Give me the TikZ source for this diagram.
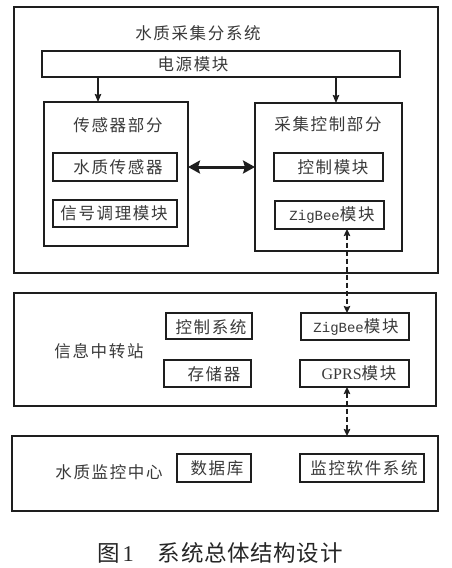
\documentclass[tikz,border=0pt]{standalone}
\usepackage{fontspec}
\setmainfont{Noto Sans CJK SC}[LetterSpace=10]
\newfontfamily\capfont{Noto Sans CJK SC}[LetterSpace=3]
\newfontfamily\zbfont{Liberation Mono}
\newfontfamily\tmsfont{Liberation Serif}
\usetikzlibrary{arrows.meta}
\definecolor{txtc}{HTML}{3A3A3A}
\definecolor{linec}{HTML}{1E1E1E}
\newcommand\ZB{{\fontsize{14}{16}\zbfont ZigBee}}
\newcommand\tzbox[5]{\node[boxst, minimum width={(#4-#2)*1pt}, minimum height={(#5-#3)*1pt}] (#1) at ({(#2+#4)/2},{(#3+#5)/2}) {};}
\tikzset{
  boxst/.style={draw=linec, line width=1.3pt, inner sep=0pt, outer sep=0pt, fill=none},
  lbl/.style={text=txtc, inner sep=0pt, font=\fontsize{16.5}{19}\selectfont},
  arr/.style={draw=linec, line width=1.3pt, -{Stealth[length=8pt,width=6.5pt,inset=1pt]}},
  bigarr/.style={draw=linec, line width=3pt, {Stealth[length=12pt,width=13pt,inset=2pt]}-{Stealth[length=12pt,width=13pt,inset=2pt]}},
  dasharr/.style={draw=linec, line width=1.5pt, dash pattern=on 5pt off 3pt, {Stealth[length=7pt,width=6.5pt,inset=1pt]}-{Stealth[length=7pt,width=6.5pt,inset=1pt]}}
}
\begin{document}
\begin{tikzpicture}[x=1pt,y=-1pt]
\useasboundingbox[fill=white] (0,0) rectangle (451,568);
% containers
\tzbox{sub1}{14}{7}{438}{273}
\tzbox{power}{42}{51}{400}{77}
\tzbox{sensor}{44}{102}{188}{246}
\tzbox{wqs}{53}{153}{177}{181}
\tzbox{sig}{53}{200}{177}{227}
\tzbox{acq}{255}{103}{402}{251}
\tzbox{ctrl}{274}{153}{383}{181}
\tzbox{zba}{275}{201}{384}{229}
\tzbox{sub2}{14}{293}{436}{406}
\tzbox{ctrlsys}{166}{313}{252}{339}
\tzbox{zbb}{301}{313}{409}{340}
\tzbox{mem}{164}{360}{251}{387}
\tzbox{gprs}{300}{360}{409}{387}
\tzbox{sub3}{12}{436}{438}{511}
\tzbox{db}{177}{454}{251}{482}
\tzbox{mon}{300}{454}{424}{482}
% texts
\node[lbl] (t1) at (198,33) {水质采集分系统};
\node[lbl] (t2) at (193,64) {电源模块};
\node[lbl] (t3) at (118,125) {传感器部分};
\node[lbl] (t4) at (118,167) {水质传感器};
\node[lbl] (t5) at (114,213) {信号调理模块};
\node[lbl] (t6) at (328,124) {采集控制部分};
\node[lbl] (t7) at (333,167) {控制模块};
\node[lbl] (t8) at (332,215) {\ZB 模块};
\node[lbl] (t9) at (99,351) {信息中转站};
\node[lbl] (t10) at (211,327) {控制系统};
\node[lbl] (t11) at (214,374) {存储器};
\node[lbl] (t12) at (356,327) {\ZB 模块};
\node[lbl] (t13) at (359,373) {{\fontsize{16}{18}\tmsfont GPRS}模块};
\node[lbl] (t14) at (109,472) {水质监控中心};
\node[lbl] (t15) at (217,468) {数据库};
\node[lbl] (t16) at (364,468) {监控软件系统};
\node[text=black!85, inner sep=0pt, anchor=west, font=\fontsize{22.5}{26}\capfont] (cap) at (97,553) {图\hspace{3pt}{\tmsfont 1}\hspace{24pt}系统总体结构设计};
% connectors
\coordinate (ca) at (98,0);
\coordinate (cb) at (336,0);
\coordinate (cm) at (0,167);
\coordinate (cd) at (347,0);
\draw[arr] (power.south -| ca) -- (sensor.north -| ca);
\draw[arr] (power.south -| cb) -- (acq.north -| cb);
\draw[bigarr] (sensor.east |- cm) -- (acq.west |- cm);
\draw[dasharr] (zba.south -| cd) -- (zbb.north -| cd);
\draw[dasharr] (gprs.south -| cd) -- (sub3.north -| cd);
\end{tikzpicture}
\end{document}
